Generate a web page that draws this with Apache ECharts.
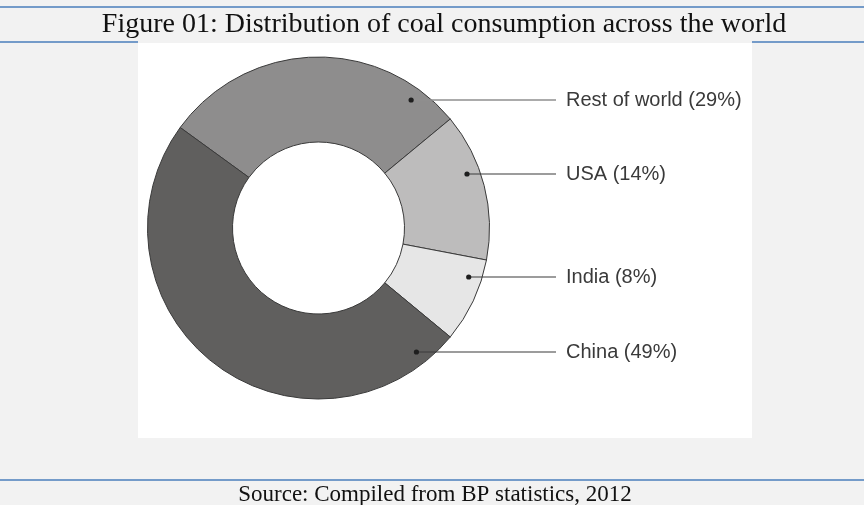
<!DOCTYPE html>
<html><head><meta charset="utf-8">
<script src="https://cdn.jsdelivr.net/npm/echarts@6/dist/echarts.min.js"></script>
<style>html,body{margin:0;padding:0;background:#f2f2f2}#c{width:864px;height:505px}</style>
</head><body><div id="c"></div>
<script>
// ---- data ----
const regions = ['Rest of world', 'USA', 'India', 'China'];
const shares = [29, 14, 8, 49];
const titleText = 'Figure 01: Distribution of coal consumption across the world';
const sourceText = 'Source: Compiled from BP statistics, 2012';

// ---- layout / style ----
const sliceColors = ['#8e8d8d', '#bdbcbc', '#e6e6e6', '#605f5e'];
const lineColors = ['#8f8f8f', '#3a3a3a', '#3a3a3a', '#3a3a3a'];
const CX = 318.5, CY = 228, R0 = 86, R1 = 171;
const labelY = [100, 174, 277, 352];
const dotR = 158;
const lineEndX = 556, textX = 566;
const blue = '#4a7ebb';
function dotX(i) { const dy = labelY[i] - CY; return CX + Math.sqrt(dotR * dotR - dy * dy); }

const chart = echarts.init(document.getElementById('c'), null, { renderer: 'canvas' });

const graphics = [
  { type: 'rect', z: 0, silent: true, shape: { x: 138, y: 43, width: 614, height: 395 }, style: { fill: '#ffffff' } },
  { type: 'line', z: 1, silent: true, shape: { x1: 0, y1: 7, x2: 864, y2: 7 }, style: { stroke: blue, lineWidth: 1.5 } },
  { type: 'line', z: 1, silent: true, shape: { x1: 0, y1: 42, x2: 138, y2: 42 }, style: { stroke: blue, lineWidth: 1.5 } },
  { type: 'line', z: 1, silent: true, shape: { x1: 752, y1: 42, x2: 864, y2: 42 }, style: { stroke: blue, lineWidth: 1.5 } },
  { type: 'line', z: 1, silent: true, shape: { x1: 0, y1: 480, x2: 864, y2: 480 }, style: { stroke: blue, lineWidth: 1.5 } },
  { type: 'text', z: 1, silent: true, style: { x: 444, y: 25, text: titleText, font: '28px "Liberation Serif", serif', fill: '#111111', textAlign: 'center', textVerticalAlign: 'middle' } },
  { type: 'text', z: 1, silent: true, style: { x: 435, y: 495, text: sourceText, font: '23px "Liberation Serif", serif', fill: '#111111', textAlign: 'center', textVerticalAlign: 'middle' } }
];
regions.forEach(function (r, i) {
  graphics.push({ type: 'line', z: 99, silent: true, shape: { x1: dotX(i), y1: labelY[i], x2: lineEndX, y2: labelY[i] },
    style: { stroke: lineColors[i], lineWidth: i === 0 ? 1.6 : 1.1 } });
  graphics.push({ type: 'circle', z: 100, silent: true, shape: { cx: dotX(i), cy: labelY[i], r: 2.6 }, style: { fill: '#1e1e1e' } });
});

chart.setOption({
  backgroundColor: '#f2f2f2',
  animation: false,
  graphic: graphics,
  series: [{
    type: 'pie',
    z: 5,
    silent: true,
    center: [CX, CY],
    radius: [R0, R1],
    startAngle: 144,
    clockwise: true,
    avoidLabelOverlap: false,
    emphasis: { disabled: true },
    itemStyle: { borderColor: '#3a3a3a', borderWidth: 1 },
    label: {
      show: true, position: 'outside', formatter: '{b} ({c}%)',
      fontFamily: '"Liberation Sans", Arial, sans-serif', fontSize: 20, color: '#3a3a3a'
    },
    labelLine: { show: false },
    labelLayout: function (p) {
      return { x: textX, y: labelY[p.dataIndex], align: 'left', verticalAlign: 'middle' };
    },
    data: regions.map(function (n, i) {
      return { name: n, value: shares[i], itemStyle: { color: sliceColors[i] } };
    })
  }]
});
</script>
</body></html>
